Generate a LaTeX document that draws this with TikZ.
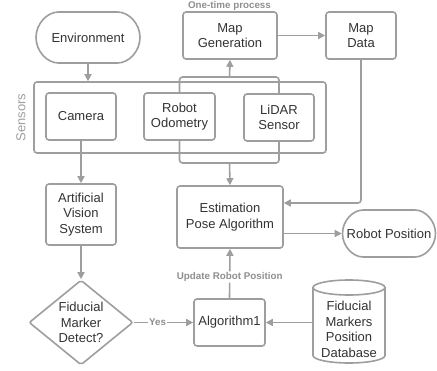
\documentclass[tikz,border=0pt]{standalone}
\usepackage{fontspec}
\setmainfont{Liberation Sans}
\usetikzlibrary{calc, arrows.meta, shapes.geometric, shapes.misc}
\definecolor{linegray}{HTML}{9E9E9E}
\definecolor{textgray}{HTML}{333333}
\definecolor{notegray}{HTML}{8F8F8F}

\begin{document}
\begin{tikzpicture}[x=1pt, y=-1pt,
        box/.style={draw=linegray, line width=1.6pt, rounded corners=3pt, fill=white,
            align=center, text=textgray, inner sep=0pt, font=\fontsize{13}{15.5}\selectfont},
        terminal/.style={box, rounded rectangle},
        note/.style={text=notegray, font=\bfseries\fontsize{9.8}{11}\selectfont, inner sep=1pt},
        link/.style={draw=linegray, line width=1.6pt, rounded corners=3pt},
        flow/.style={link, arrows={-{Triangle[length=7pt, width=7pt]}}}]
        \useasboundingbox (0, 0) rectangle (437, 370);
        \node [draw=linegray, line width=1.6pt, rounded corners=3pt, minimum width=292,
            minimum height=71] (sensors) at (180, 117.5) {};
        \node [rotate=90, text=linegray, font=\fontsize{13}{15}\selectfont] (sensorstag)
            at (21, 117.5) {Sensors};
        \node [terminal, minimum width=104, minimum height=51] (env) at (88, 37.5) {Environment};
        \node [box, minimum width=70, minimum height=47] (camera) at (81, 116.5) {Camera};
        \node [box, minimum width=71, minimum height=47] (odom) at (179.5, 116.5) {Robot\\Odometry};
        \node [box, minimum width=70, minimum height=47] (lidar) at (279, 117.5) {LiDAR\\Sensor};
        \node [box, minimum width=94, minimum height=47] (mapgen) at (230, 35.5) {Map\\Generation};
        \node [note] (onetime) at (229.5, 6) {One-time process};
        \node [box, minimum width=70, minimum height=47] (mapdata) at (361, 35.5) {Map\\Data};
        \node [box, minimum width=70, minimum height=61] (vision) at (81, 214.5)
            {Artificial\\Vision\\System};
        \node [box, diamond, rounded corners=2pt, minimum width=104, minimum height=85,
            label={[align=center, text=textgray, font=\fontsize{13}{15.5}\selectfont]center:Fiducial\\Marker\\Detect?}]
            (detect) at (81, 322.5) {};
        \node [box, minimum width=106, minimum height=62] (pose) at (230, 217)
            {Estimation\\Pose Algorithm};
        \node [terminal, minimum width=93, minimum height=47] (robpos) at (389, 233.5) {Robot Position};
        \node [box, minimum width=71, minimum height=47] (algo) at (229.5, 322.5) {Algorithm1};
        \coordinate (dbtop) at (349, 287.5);
        \coordinate (dbbottom) at (349, 355.5);
        \path [draw=linegray, line width=1.6pt, fill=white] ($(dbtop)+(-36, 0)$) -- ($(dbbottom)+(-36, 0)$)
            arc [start angle=180, end angle=0, x radius=36, y radius=7.5] -- ($(dbtop)+(36, 0)$);
        \path [draw=linegray, line width=1.6pt, fill=white] (dbtop) ellipse [x radius=36, y radius=7.5];
        \node [box, draw=none, fill=none, minimum width=72] (db) at (349, 329.5)
            {Fiducial\\Markers\\Position\\Database};
        \coordinate (upjoin) at (229.5, 77);
        \coordinate (downjoin) at (229.5, 163);
        \path [flow] (env.south) -- (env.south |- sensors.north);
        \path [flow] (camera.south) -- (vision.north);
        \path [flow] (vision.south) -- (detect.north);
        \path [flow] (detect.east) -- node [note, fill=white, pos=0.4] {Yes} (algo.west);
        \path [flow] (db.west |- algo) -- (algo.east);
        \path [flow] (algo.north) -- node [note, fill=white, pos=0.43] {Update Robot Position} (pose.south);
        \path [flow] (pose.east |- robpos) -- (robpos.west);
        \path [flow] (mapgen.east) -- (mapdata.west);
        \path [flow] (mapdata.south) |- ($(pose.east)+(0, -14)$);
        \path [link] (odom.north) |- (upjoin) -| (lidar.north);
        \path [flow] (upjoin) -- (mapgen.south);
        \path [link] (odom.south) |- (downjoin) -| (lidar.south);
        \path [flow] (downjoin) -- (pose.north);
    \end{tikzpicture}
\end{document}
